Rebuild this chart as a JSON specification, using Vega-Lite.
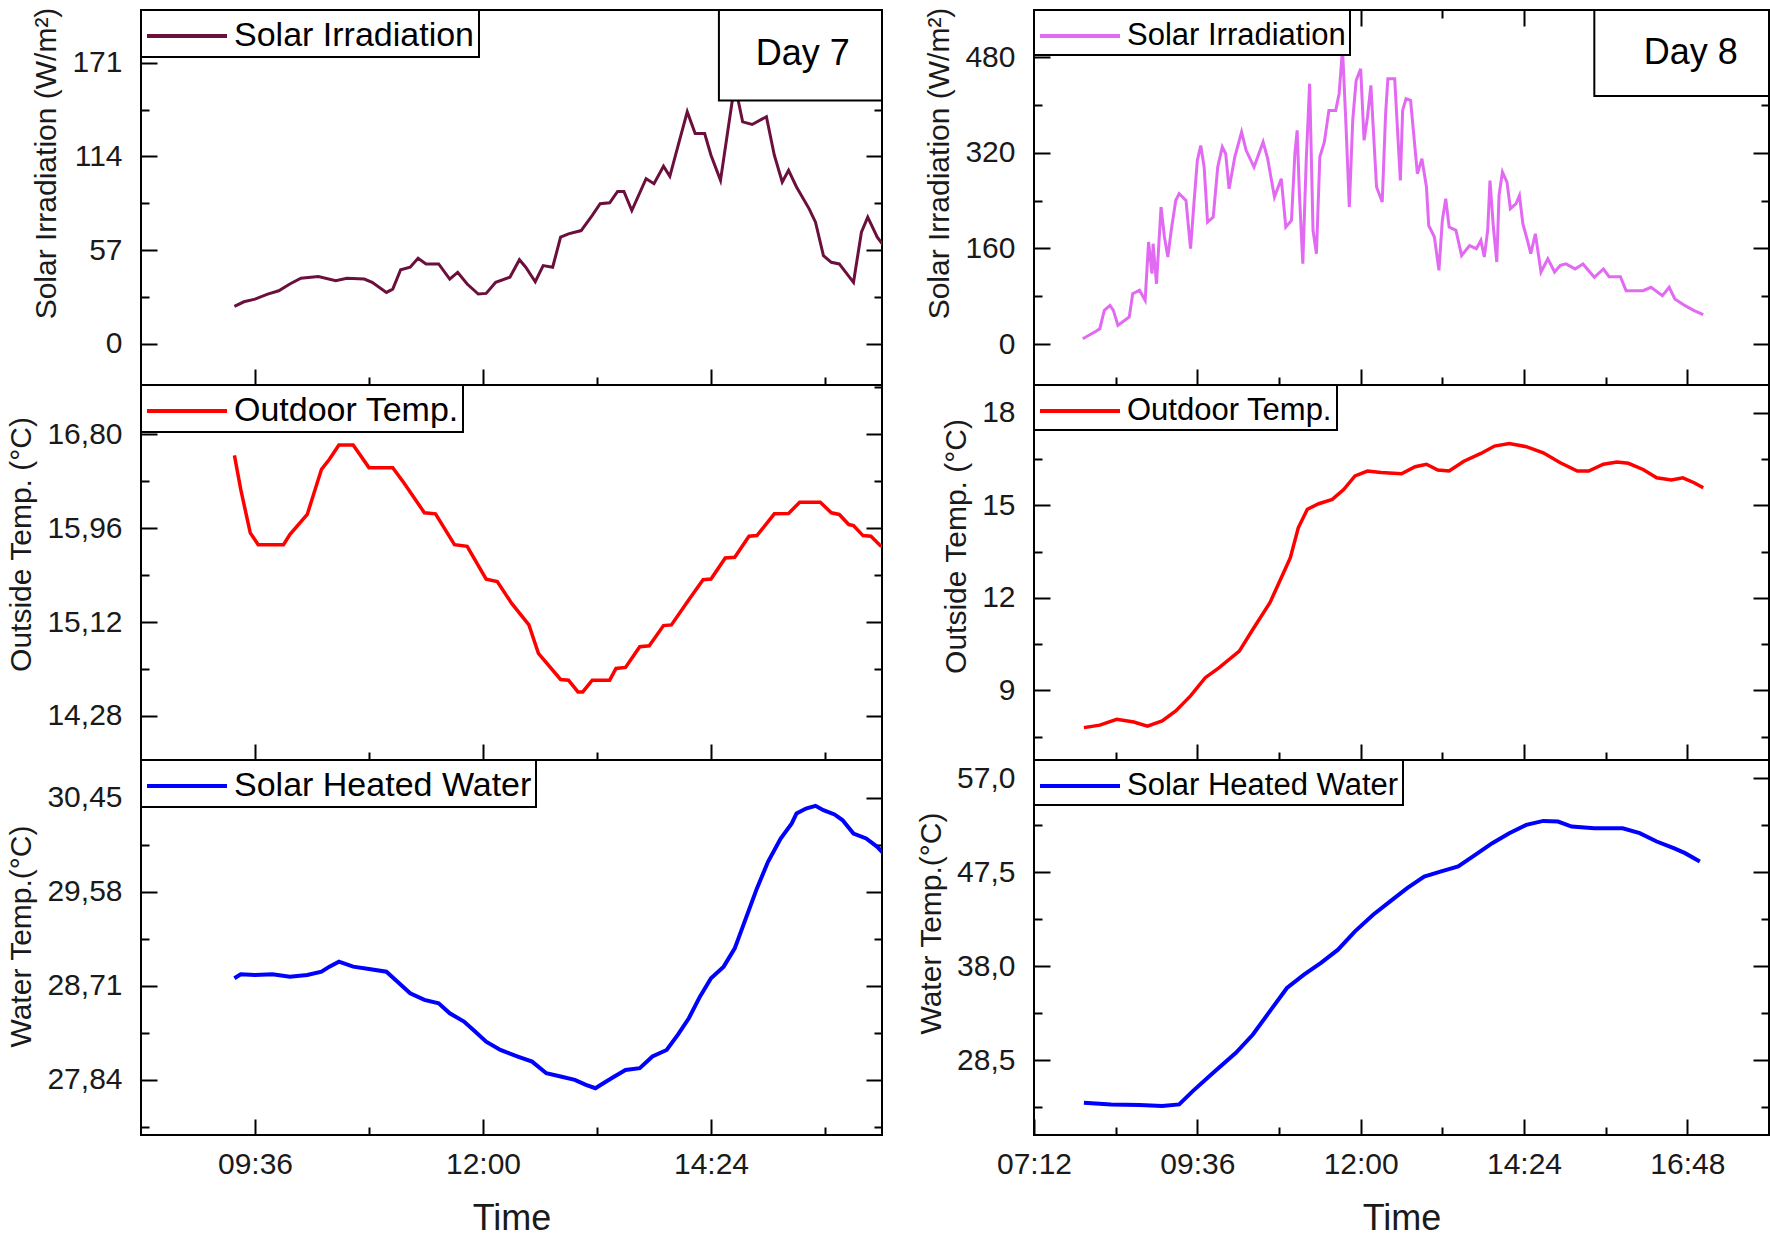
{
  "$schema": "https://vega.github.io/schema/vega-lite/v6.json",
  "background": "white",
  "padding": {"left": 5, "top": 6, "right": 4, "bottom": 2},
  "config": {
    "font": "Liberation Sans",
    "view": {"stroke": "black", "strokeWidth": 2},
    "axis": {"domain": false, "grid": false, "tickColor": "black", "tickWidth": 2, "labelFont": "Liberation Sans", "labelFontSize": 30, "labelColor": "#1a1a1a", "titleFont": "Liberation Sans", "titleFontSize": 30, "titleFontWeight": "normal", "titleColor": "#1a1a1a", "labelPadding": 35, "titlePadding": 10, "labelFlush": false, "labelOverlap": false, "labelBound": false},
    "legend": {"orient": "top-left", "offset": 0, "strokeColor": "black", "strokeWidth": 2, "fillColor": "white", "padding": 4, "symbolType": "M-1,0H3", "symbolSize": 1600, "symbolStrokeWidth": 4, "labelFont": "Liberation Sans", "labelFontSize": 34, "labelColor": "black", "labelOffset": 45, "labelLimit": 800}
  },
  "spacing": 30,
  "resolve": {"scale": {"x": "independent", "y": "independent", "color": "independent"}, "legend": {"color": "independent"}, "axis": {"x": "independent", "y": "independent"}},
  "hconcat": [
    {
      "spacing": 0,
      "bounds": "flush",
      "resolve": {"scale": {"x": "independent", "y": "independent", "color": "independent"}, "legend": {"color": "independent"}, "axis": {"x": "independent", "y": "independent"}},
      "vconcat": [
        {
          "width": 741, "height": 375,
          "data": {"values": [
            {"t":"09:23","v":22.8},{"t":"09:29","v":25.6},{"t":"09:36","v":27.2},{"t":"09:44","v":30.3},{"t":"09:51","v":32.3},{"t":"09:58","v":36.4},{"t":"10:05","v":39.9},{"t":"10:16","v":40.9},{"t":"10:27","v":38.4},{"t":"10:34","v":39.9},{"t":"10:45","v":39.4},{"t":"10:50","v":37.4},{"t":"10:59","v":31.3},{"t":"11:03","v":33.3},{"t":"11:08","v":45.1},{"t":"11:14","v":46.6},{"t":"11:19","v":52.1},{"t":"11:24","v":48.6},{"t":"11:32","v":48.6},{"t":"11:39","v":39.4},{"t":"11:44","v":43.5},{"t":"11:50","v":36.4},{"t":"11:57","v":30.3},{"t":"12:02","v":30.7},{"t":"12:08","v":37.4},{"t":"12:17","v":40.5},{"t":"12:23","v":51.2},{"t":"12:27","v":46.6},{"t":"12:33","v":37.8},{"t":"12:38","v":47.6},{"t":"12:44","v":46.6},{"t":"12:49","v":64.9},{"t":"12:54","v":66.9},{"t":"13:02","v":68.9},{"t":"13:09","v":78.1},{"t":"13:14","v":85.2},{"t":"13:20","v":85.8},{"t":"13:25","v":92.7},{"t":"13:29","v":92.7},{"t":"13:34","v":81.1},{"t":"13:43","v":100.4},{"t":"13:48","v":97.4},{"t":"13:54","v":108.0},{"t":"13:58","v":101.9},{"t":"14:03","v":119.8},{"t":"14:09","v":141.1},{"t":"14:14","v":127.9},{"t":"14:20","v":127.9},{"t":"14:24","v":114.7},{"t":"14:30","v":99.4},{"t":"14:35","v":132.0},{"t":"14:39","v":158.0},{"t":"14:44","v":135.0},{"t":"14:50","v":133.4},{"t":"14:59","v":138.1},{"t":"15:04","v":114.7},{"t":"15:09","v":98.4},{"t":"15:13","v":105.5},{"t":"15:18","v":95.4},{"t":"15:26","v":82.1},{"t":"15:30","v":74.0},{"t":"15:35","v":53.7},{"t":"15:40","v":49.6},{"t":"15:45","v":48.6},{"t":"15:54","v":37.4},{"t":"15:59","v":67.9},{"t":"16:03","v":77.1},{"t":"16:09","v":64.9},{"t":"16:13","v":59.8}
          ], "format": {"parse": {"t": "utc:'%H:%M'"}}},
          "resolve": {"axis": {"y": "independent"}},
          "layer": [
            {"mark": {"type": "line", "strokeWidth": 3, "clip": true},
             "encoding": {
               "x": {"field": "t", "type": "temporal", "scale": {"type": "utc", "domain": [{"year":1900,"month":1,"date":1,"hours":8,"minutes":24,"utc":true},{"year":1900,"month":1,"date":1,"hours":16,"minutes":12,"utc":true}]},
                     "axis": {"labels": false, "title": null, "values": [{"year":1900,"month":1,"date":1,"hours":9,"minutes":36,"utc":true},{"year":1900,"month":1,"date":1,"hours":10,"minutes":48,"utc":true},{"year":1900,"month":1,"date":1,"hours":12,"minutes":0,"utc":true},{"year":1900,"month":1,"date":1,"hours":13,"minutes":12,"utc":true},{"year":1900,"month":1,"date":1,"hours":14,"minutes":24,"utc":true},{"year":1900,"month":1,"date":1,"hours":15,"minutes":36,"utc":true}],
                              "tickSize": {"condition": {"test": "(utchours(datum.value)*60+utcminutes(datum.value)) % 144 === 0", "value": -16}, "value": -8}}},
               "y": {"field": "v", "type": "quantitative", "scale": {"domain": [-25, 203], "nice": false, "zero": false},
                     "axis": {"title": "Solar Irradiation (W/m²)", "titleY": 153, "values": [0, 28.5, 57, 85.5, 114, 142.5, 171, 199.5],
                              "labelExpr": "abs(datum.value/57 - round(datum.value/57)) < 0.01 ? format(datum.value, 'd') : ''",
                              "labelFontSize": {"condition": {"test": "abs(datum.value/57 - round(datum.value/57)) < 0.01", "value": 30}, "value": 0},
                              "tickSize": {"condition": {"test": "abs(datum.value/57 - round(datum.value/57)) < 0.01", "value": -16}, "value": -8}}},
               "color": {"datum": "Solar Irradiation", "type": "nominal", "scale": {"range": ["#6b0f3c"]}, "legend": {"title": null}}
             }},
            {"mark": {"type": "line", "opacity": 0},
             "encoding": {
               "x": {"field": "t", "type": "temporal"},
               "y": {"field": "v", "type": "quantitative", "scale": {"domain": [-25, 203], "nice": false, "zero": false},
                     "axis": {"orient": "right", "labels": false, "title": null, "values": [0, 28.5, 57, 85.5, 114, 142.5, 171, 199.5],
                              "tickSize": {"condition": {"test": "abs(datum.value/57 - round(datum.value/57)) < 0.01", "value": -16}, "value": -8}}}
             }},
            {"data": {"values": [{}]},
             "mark": {"type": "rect", "fill": "white", "stroke": "black", "strokeWidth": 2},
             "encoding": {
               "x": {"datum": {"year":1900,"month":1,"date":1,"hours":14,"minutes":29,"utc":true}, "type": "temporal"},
               "x2": {"datum": {"year":1900,"month":1,"date":1,"hours":16,"minutes":12,"utc":true}},
               "y": {"datum": 148, "type": "quantitative", "axis": null},
               "y2": {"datum": 203}
             }},
            {"data": {"values": [{}]},
             "mark": {"type": "text", "font": "Liberation Sans", "fontSize": 36, "color": "black", "align": "center", "baseline": "middle"},
             "encoding": {
               "x": {"datum": {"year":1900,"month":1,"date":1,"hours":15,"minutes":22,"utc":true}, "type": "temporal"},
               "y": {"datum": 176, "type": "quantitative", "axis": null},
               "text": {"value": "Day 7"}
             }}
          ]
        },
        {
          "width": 741, "height": 375,
          "data": {"values": [
            {"t":"09:23","v":16.611},{"t":"09:27","v":16.306},{"t":"09:33","v":15.917},{"t":"09:38","v":15.812},{"t":"09:54","v":15.812},{"t":"09:58","v":15.902},{"t":"10:09","v":16.082},{"t":"10:18","v":16.486},{"t":"10:23","v":16.576},{"t":"10:29","v":16.704},{"t":"10:38","v":16.704},{"t":"10:48","v":16.501},{"t":"11:03","v":16.501},{"t":"11:10","v":16.366},{"t":"11:23","v":16.097},{"t":"11:30","v":16.088},{"t":"11:42","v":15.812},{"t":"11:50","v":15.797},{"t":"12:02","v":15.504},{"t":"12:09","v":15.483},{"t":"12:18","v":15.289},{"t":"12:29","v":15.094},{"t":"12:35","v":14.84},{"t":"12:49","v":14.606},{"t":"12:54","v":14.6},{"t":"13:00","v":14.495},{"t":"13:03","v":14.495},{"t":"13:09","v":14.6},{"t":"13:20","v":14.6},{"t":"13:24","v":14.705},{"t":"13:30","v":14.714},{"t":"13:39","v":14.899},{"t":"13:45","v":14.908},{"t":"13:54","v":15.088},{"t":"13:59","v":15.094},{"t":"14:10","v":15.319},{"t":"14:19","v":15.498},{"t":"14:24","v":15.504},{"t":"14:33","v":15.693},{"t":"14:39","v":15.699},{"t":"14:48","v":15.887},{"t":"14:53","v":15.893},{"t":"15:04","v":16.088},{"t":"15:13","v":16.091},{"t":"15:20","v":16.192},{"t":"15:33","v":16.192},{"t":"15:40","v":16.097},{"t":"15:45","v":16.082},{"t":"15:51","v":15.992},{"t":"15:54","v":15.983},{"t":"16:00","v":15.893},{"t":"16:05","v":15.887},{"t":"16:11","v":15.803},{"t":"16:13","v":15.797}
          ], "format": {"parse": {"t": "utc:'%H:%M'"}}},
          "resolve": {"axis": {"y": "independent"}},
          "layer": [
            {"mark": {"type": "line", "strokeWidth": 3.5, "clip": true},
             "encoding": {
               "x": {"field": "t", "type": "temporal", "scale": {"type": "utc", "domain": [{"year":1900,"month":1,"date":1,"hours":8,"minutes":24,"utc":true},{"year":1900,"month":1,"date":1,"hours":16,"minutes":12,"utc":true}]},
                     "axis": {"labels": false, "title": null, "values": [{"year":1900,"month":1,"date":1,"hours":9,"minutes":36,"utc":true},{"year":1900,"month":1,"date":1,"hours":10,"minutes":48,"utc":true},{"year":1900,"month":1,"date":1,"hours":12,"minutes":0,"utc":true},{"year":1900,"month":1,"date":1,"hours":13,"minutes":12,"utc":true},{"year":1900,"month":1,"date":1,"hours":14,"minutes":24,"utc":true},{"year":1900,"month":1,"date":1,"hours":15,"minutes":36,"utc":true}],
                              "tickSize": {"condition": {"test": "(utchours(datum.value)*60+utcminutes(datum.value)) % 144 === 0", "value": -16}, "value": -8}}},
               "y": {"field": "v", "type": "quantitative", "scale": {"domain": [13.886, 17.24], "nice": false, "zero": false},
                     "axis": {"title": "Outside Temp. (°C)", "titleY": 159, "values": [14.28, 14.7, 15.12, 15.54, 15.96, 16.38, 16.8, 17.22],
                              "labelExpr": "abs(datum.value/0.84 - round(datum.value/0.84)) < 0.01 ? replace(format(datum.value, '.2f'), '.', ',') : ''",
                              "labelFontSize": {"condition": {"test": "abs(datum.value/0.84 - round(datum.value/0.84)) < 0.01", "value": 30}, "value": 0},
                              "tickSize": {"condition": {"test": "abs(datum.value/0.84 - round(datum.value/0.84)) < 0.01", "value": -16}, "value": -8}}},
               "color": {"datum": "Outdoor Temp.", "type": "nominal", "scale": {"range": ["#ff0000"]}, "legend": {"title": null}}
             }},
            {"mark": {"type": "line", "opacity": 0},
             "encoding": {
               "x": {"field": "t", "type": "temporal"},
               "y": {"field": "v", "type": "quantitative", "scale": {"domain": [13.886, 17.24], "nice": false, "zero": false},
                     "axis": {"orient": "right", "labels": false, "title": null, "values": [14.28, 14.7, 15.12, 15.54, 15.96, 16.38, 16.8, 17.22],
                              "tickSize": {"condition": {"test": "abs(datum.value/0.84 - round(datum.value/0.84)) < 0.01", "value": -16}, "value": -8}}}
             }}
          ]
        },
        {
          "width": 741, "height": 375,
          "data": {"values": [
            {"t":"09:23","v":28.78},{"t":"09:27","v":28.817},{"t":"09:36","v":28.811},{"t":"09:47","v":28.817},{"t":"09:58","v":28.795},{"t":"10:09","v":28.811},{"t":"10:18","v":28.841},{"t":"10:23","v":28.888},{"t":"10:29","v":28.934},{"t":"10:38","v":28.888},{"t":"10:48","v":28.866},{"t":"10:59","v":28.841},{"t":"11:06","v":28.749},{"t":"11:14","v":28.641},{"t":"11:23","v":28.58},{"t":"11:32","v":28.549},{"t":"11:39","v":28.456},{"t":"11:48","v":28.379},{"t":"11:55","v":28.287},{"t":"12:02","v":28.194},{"t":"12:11","v":28.117},{"t":"12:22","v":28.056},{"t":"12:31","v":28.009},{"t":"12:40","v":27.902},{"t":"12:49","v":27.871},{"t":"12:58","v":27.84},{"t":"13:05","v":27.794},{"t":"13:11","v":27.763},{"t":"13:16","v":27.809},{"t":"13:23","v":27.871},{"t":"13:30","v":27.932},{"t":"13:39","v":27.948},{"t":"13:47","v":28.056},{"t":"13:56","v":28.117},{"t":"14:03","v":28.256},{"t":"14:10","v":28.41},{"t":"14:17","v":28.61},{"t":"14:24","v":28.78},{"t":"14:32","v":28.888},{"t":"14:39","v":29.057},{"t":"14:46","v":29.335},{"t":"14:53","v":29.612},{"t":"15:00","v":29.858},{"t":"15:08","v":30.074},{"t":"15:15","v":30.213},{"t":"15:18","v":30.305},{"t":"15:24","v":30.351},{"t":"15:30","v":30.376},{"t":"15:35","v":30.336},{"t":"15:42","v":30.296},{"t":"15:47","v":30.244},{"t":"15:54","v":30.12},{"t":"16:02","v":30.074},{"t":"16:09","v":29.997},{"t":"16:13","v":29.935}
          ], "format": {"parse": {"t": "utc:'%H:%M'"}}},
          "resolve": {"axis": {"y": "independent"}},
          "layer": [
            {"mark": {"type": "line", "strokeWidth": 4, "clip": true},
             "encoding": {
               "x": {"field": "t", "type": "temporal", "scale": {"type": "utc", "domain": [{"year":1900,"month":1,"date":1,"hours":8,"minutes":24,"utc":true},{"year":1900,"month":1,"date":1,"hours":16,"minutes":12,"utc":true}]},
                     "axis": {"title": "Time", "titleFontSize": 36, "titlePadding": 14, "labelPadding": 30, "values": [{"year":1900,"month":1,"date":1,"hours":9,"minutes":36,"utc":true},{"year":1900,"month":1,"date":1,"hours":10,"minutes":48,"utc":true},{"year":1900,"month":1,"date":1,"hours":12,"minutes":0,"utc":true},{"year":1900,"month":1,"date":1,"hours":13,"minutes":12,"utc":true},{"year":1900,"month":1,"date":1,"hours":14,"minutes":24,"utc":true},{"year":1900,"month":1,"date":1,"hours":15,"minutes":36,"utc":true}],
                              "labelExpr": "(utchours(datum.value)*60+utcminutes(datum.value)) % 144 === 0 ? utcFormat(datum.value, '%H:%M') : ''",
                              "tickSize": {"condition": {"test": "(utchours(datum.value)*60+utcminutes(datum.value)) % 144 === 0", "value": -16}, "value": -8}}},
               "y": {"field": "v", "type": "quantitative", "scale": {"domain": [27.33, 30.8], "nice": false, "zero": false},
                     "axis": {"title": "Water Temp.(°C)", "titleY": 176, "values": [27.405, 27.84, 28.275, 28.71, 29.145, 29.58, 30.015, 30.45],
                              "labelExpr": "abs(datum.value/0.87 - round(datum.value/0.87)) < 0.01 ? replace(format(datum.value, '.2f'), '.', ',') : ''",
                              "labelFontSize": {"condition": {"test": "abs(datum.value/0.87 - round(datum.value/0.87)) < 0.01", "value": 30}, "value": 0},
                              "tickSize": {"condition": {"test": "abs(datum.value/0.87 - round(datum.value/0.87)) < 0.01", "value": -16}, "value": -8}}},
               "color": {"datum": "Solar Heated Water", "type": "nominal", "scale": {"range": ["#0000ff"]}, "legend": {"title": null}}
             }},
            {"mark": {"type": "line", "opacity": 0},
             "encoding": {
               "x": {"field": "t", "type": "temporal"},
               "y": {"field": "v", "type": "quantitative", "scale": {"domain": [27.33, 30.8], "nice": false, "zero": false},
                     "axis": {"orient": "right", "labels": false, "title": null, "values": [27.405, 27.84, 28.275, 28.71, 29.145, 29.58, 30.015, 30.45],
                              "tickSize": {"condition": {"test": "abs(datum.value/0.87 - round(datum.value/0.87)) < 0.01", "value": -16}, "value": -8}}}
             }}
          ]
        }
      ]
    },
    {
      "spacing": 0,
      "bounds": "flush",
      "resolve": {"scale": {"x": "independent", "y": "independent", "color": "independent"}, "legend": {"color": "independent"}, "axis": {"x": "independent", "y": "independent"}},
      "vconcat": [
        {
          "width": 735, "height": 375,
          "data": {"values": [
            {"t":"07:55","v":8.9},{"t":"08:07","v":21.7},{"t":"08:10","v":25.6},{"t":"08:14","v":56.3},{"t":"08:19","v":64.6},{"t":"08:22","v":56.3},{"t":"08:26","v":31.2},{"t":"08:30","v":36.8},{"t":"08:36","v":45.2},{"t":"08:39","v":84.2},{"t":"08:45","v":89.8},{"t":"08:50","v":73.1},{"t":"08:53","v":170.6},{"t":"08:56","v":117.6},{"t":"08:57","v":167.8},{"t":"09:00","v":100.8},{"t":"09:04","v":229.1},{"t":"09:07","v":179.0},{"t":"09:10","v":145.5},{"t":"09:13","v":190.2},{"t":"09:17","v":240.3},{"t":"09:20","v":251.4},{"t":"09:26","v":240.3},{"t":"09:30","v":159.4},{"t":"09:33","v":234.7},{"t":"09:36","v":307.0},{"t":"09:39","v":332.0},{"t":"09:42","v":296.0},{"t":"09:45","v":204.0},{"t":"09:50","v":212.4},{"t":"09:54","v":296.0},{"t":"09:58","v":329.5},{"t":"10:01","v":318.3},{"t":"10:04","v":259.7},{"t":"10:09","v":312.8},{"t":"10:15","v":354.6},{"t":"10:19","v":324.0},{"t":"10:26","v":296.0},{"t":"10:34","v":337.8},{"t":"10:38","v":310.0},{"t":"10:44","v":245.9},{"t":"10:50","v":276.5},{"t":"10:54","v":195.7},{"t":"10:59","v":206.8},{"t":"11:02","v":318.3},{"t":"11:04","v":357.3},{"t":"11:06","v":251.4},{"t":"11:09","v":134.3},{"t":"11:12","v":307.0},{"t":"11:15","v":435.4},{"t":"11:18","v":190.2},{"t":"11:21","v":151.1},{"t":"11:24","v":312.8},{"t":"11:28","v":337.8},{"t":"11:32","v":390.7},{"t":"11:38","v":390.7},{"t":"11:41","v":418.6},{"t":"11:44","v":493.9},{"t":"11:47","v":368.5},{"t":"11:50","v":229.1},{"t":"11:53","v":374.0},{"t":"11:56","v":440.7},{"t":"12:00","v":460.4},{"t":"12:03","v":340.6},{"t":"12:06","v":379.7},{"t":"12:09","v":432.7},{"t":"12:14","v":262.6},{"t":"12:19","v":237.5},{"t":"12:22","v":385.3},{"t":"12:24","v":443.7},{"t":"12:30","v":443.7},{"t":"12:33","v":340.6},{"t":"12:35","v":273.5},{"t":"12:37","v":390.7},{"t":"12:40","v":410.2},{"t":"12:44","v":407.4},{"t":"12:47","v":346.2},{"t":"12:50","v":284.8},{"t":"12:54","v":310.0},{"t":"12:58","v":262.6},{"t":"13:00","v":198.2},{"t":"13:05","v":179.0},{"t":"13:09","v":123.3},{"t":"13:12","v":206.8},{"t":"13:15","v":243.0},{"t":"13:18","v":195.7},{"t":"13:24","v":190.2},{"t":"13:29","v":148.0},{"t":"13:36","v":164.7},{"t":"13:42","v":159.4},{"t":"13:46","v":173.4},{"t":"13:49","v":145.5},{"t":"13:52","v":190.2},{"t":"13:54","v":273.5},{"t":"13:57","v":195.7},{"t":"14:00","v":137.1},{"t":"14:02","v":248.4},{"t":"14:05","v":287.7},{"t":"14:09","v":270.9},{"t":"14:12","v":226.3},{"t":"14:17","v":234.7},{"t":"14:20","v":248.4},{"t":"14:23","v":201.2},{"t":"14:27","v":173.4},{"t":"14:30","v":151.0},{"t":"14:34","v":184.5},{"t":"14:39","v":120.4},{"t":"14:45","v":142.7},{"t":"14:51","v":120.4},{"t":"14:56","v":131.6},{"t":"15:01","v":134.0},{"t":"15:09","v":125.6},{"t":"15:16","v":134.0},{"t":"15:26","v":111.6},{"t":"15:34","v":125.6},{"t":"15:39","v":112.7},{"t":"15:49","v":112.7},{"t":"15:54","v":89.3},{"t":"16:09","v":89.3},{"t":"16:16","v":94.9},{"t":"16:26","v":80.9},{"t":"16:32","v":94.9},{"t":"16:37","v":75.3},{"t":"16:46","v":64.2},{"t":"16:54","v":55.8},{"t":"17:02","v":49.1}
          ], "format": {"parse": {"t": "utc:'%H:%M'"}}},
          "resolve": {"axis": {"x": "independent", "y": "independent"}},
          "layer": [
            {"mark": {"type": "line", "strokeWidth": 3, "clip": true},
             "encoding": {
               "x": {"field": "t", "type": "temporal", "scale": {"type": "utc", "domain": [{"year":1900,"month":1,"date":1,"hours":7,"minutes":12,"utc":true},{"year":1900,"month":1,"date":1,"hours":18,"minutes":0,"utc":true}]},
                     "axis": {"orient": "bottom", "labels": false, "title": null, "values": [{"year":1900,"month":1,"date":1,"hours":8,"minutes":24,"utc":true},{"year":1900,"month":1,"date":1,"hours":9,"minutes":36,"utc":true},{"year":1900,"month":1,"date":1,"hours":10,"minutes":48,"utc":true},{"year":1900,"month":1,"date":1,"hours":12,"minutes":0,"utc":true},{"year":1900,"month":1,"date":1,"hours":13,"minutes":12,"utc":true},{"year":1900,"month":1,"date":1,"hours":14,"minutes":24,"utc":true},{"year":1900,"month":1,"date":1,"hours":15,"minutes":36,"utc":true},{"year":1900,"month":1,"date":1,"hours":16,"minutes":48,"utc":true}],
                              "tickSize": {"condition": {"test": "(utchours(datum.value)*60+utcminutes(datum.value)) % 144 === 0", "value": -16}, "value": -8}}},
               "y": {"field": "v", "type": "quantitative", "scale": {"domain": [-68.5, 558.6], "nice": false, "zero": false},
                     "axis": {"title": "Solar Irradiation (W/m²)", "titleY": 153, "values": [0, 80, 160, 240, 320, 400, 480],
                              "labelExpr": "abs(datum.value/160 - round(datum.value/160)) < 0.01 ? format(datum.value, 'd') : ''",
                              "labelFontSize": {"condition": {"test": "abs(datum.value/160 - round(datum.value/160)) < 0.01", "value": 30}, "value": 0},
                              "tickSize": {"condition": {"test": "abs(datum.value/160 - round(datum.value/160)) < 0.01", "value": -16}, "value": -8}}},
               "color": {"datum": "Solar Irradiation", "type": "nominal", "scale": {"range": ["#e26af3"]}, "legend": {"title": null, "labelFontSize": 31}}
             }},
            {"mark": {"type": "line", "opacity": 0},
             "encoding": {
               "x": {"field": "t", "type": "temporal",
                     "axis": {"orient": "top", "labels": false, "title": null, "values": [{"year":1900,"month":1,"date":1,"hours":8,"minutes":24,"utc":true},{"year":1900,"month":1,"date":1,"hours":9,"minutes":36,"utc":true},{"year":1900,"month":1,"date":1,"hours":10,"minutes":48,"utc":true},{"year":1900,"month":1,"date":1,"hours":12,"minutes":0,"utc":true},{"year":1900,"month":1,"date":1,"hours":13,"minutes":12,"utc":true},{"year":1900,"month":1,"date":1,"hours":14,"minutes":24,"utc":true},{"year":1900,"month":1,"date":1,"hours":15,"minutes":36,"utc":true},{"year":1900,"month":1,"date":1,"hours":16,"minutes":48,"utc":true}],
                              "tickSize": {"condition": {"test": "(utchours(datum.value)*60+utcminutes(datum.value)) % 144 === 0", "value": -16}, "value": -8}}},
               "y": {"field": "v", "type": "quantitative", "scale": {"domain": [-68.5, 558.6], "nice": false, "zero": false},
                     "axis": {"orient": "right", "labels": false, "title": null, "values": [0, 80, 160, 240, 320, 400, 480],
                              "tickSize": {"condition": {"test": "abs(datum.value/160 - round(datum.value/160)) < 0.01", "value": -16}, "value": -8}}}
             }},
            {"data": {"values": [{}]},
             "mark": {"type": "rect", "fill": "white", "stroke": "black", "strokeWidth": 2},
             "encoding": {
               "x": {"datum": {"year":1900,"month":1,"date":1,"hours":15,"minutes":26,"utc":true}, "type": "temporal", "axis": null},
               "x2": {"datum": {"year":1900,"month":1,"date":1,"hours":18,"minutes":0,"utc":true}},
               "y": {"datum": 414.8, "type": "quantitative", "axis": null},
               "y2": {"datum": 558.6}
             }},
            {"data": {"values": [{}]},
             "mark": {"type": "text", "font": "Liberation Sans", "fontSize": 36, "color": "black", "align": "center", "baseline": "middle"},
             "encoding": {
               "x": {"datum": {"year":1900,"month":1,"date":1,"hours":16,"minutes":51,"utc":true}, "type": "temporal", "axis": null},
               "y": {"datum": 486, "type": "quantitative", "axis": null},
               "text": {"value": "Day 8"}
             }}
          ]
        },
        {
          "width": 735, "height": 375,
          "data": {"values": [
            {"t":"07:56","v":7.79},{"t":"08:10","v":7.87},{"t":"08:25","v":8.06},{"t":"08:40","v":7.97},{"t":"08:52","v":7.84},{"t":"09:05","v":8.01},{"t":"09:17","v":8.33},{"t":"09:30","v":8.82},{"t":"09:43","v":9.41},{"t":"09:55","v":9.73},{"t":"10:13","v":10.27},{"t":"10:25","v":10.98},{"t":"10:40","v":11.84},{"t":"10:50","v":12.65},{"t":"10:58","v":13.3},{"t":"11:05","v":14.27},{"t":"11:13","v":14.87},{"t":"11:23","v":15.05},{"t":"11:35","v":15.19},{"t":"11:45","v":15.51},{"t":"11:55","v":15.95},{"t":"12:06","v":16.11},{"t":"12:18","v":16.06},{"t":"12:36","v":16.02},{"t":"12:48","v":16.25},{"t":"12:58","v":16.33},{"t":"13:08","v":16.14},{"t":"13:18","v":16.11},{"t":"13:31","v":16.43},{"t":"13:46","v":16.68},{"t":"13:58","v":16.92},{"t":"14:11","v":17.0},{"t":"14:26","v":16.9},{"t":"14:41","v":16.7},{"t":"14:56","v":16.38},{"t":"15:11","v":16.11},{"t":"15:21","v":16.11},{"t":"15:34","v":16.33},{"t":"15:46","v":16.4},{"t":"15:56","v":16.36},{"t":"16:09","v":16.16},{"t":"16:21","v":15.89},{"t":"16:34","v":15.82},{"t":"16:44","v":15.89},{"t":"16:54","v":15.73},{"t":"17:02","v":15.57}
          ], "format": {"parse": {"t": "utc:'%H:%M'"}}},
          "resolve": {"axis": {"y": "independent"}},
          "layer": [
            {"mark": {"type": "line", "strokeWidth": 3.5, "clip": true},
             "encoding": {
               "x": {"field": "t", "type": "temporal", "scale": {"type": "utc", "domain": [{"year":1900,"month":1,"date":1,"hours":7,"minutes":12,"utc":true},{"year":1900,"month":1,"date":1,"hours":18,"minutes":0,"utc":true}]},
                     "axis": {"labels": false, "title": null, "values": [{"year":1900,"month":1,"date":1,"hours":8,"minutes":24,"utc":true},{"year":1900,"month":1,"date":1,"hours":9,"minutes":36,"utc":true},{"year":1900,"month":1,"date":1,"hours":10,"minutes":48,"utc":true},{"year":1900,"month":1,"date":1,"hours":12,"minutes":0,"utc":true},{"year":1900,"month":1,"date":1,"hours":13,"minutes":12,"utc":true},{"year":1900,"month":1,"date":1,"hours":14,"minutes":24,"utc":true},{"year":1900,"month":1,"date":1,"hours":15,"minutes":36,"utc":true},{"year":1900,"month":1,"date":1,"hours":16,"minutes":48,"utc":true}],
                              "tickSize": {"condition": {"test": "(utchours(datum.value)*60+utcminutes(datum.value)) % 144 === 0", "value": -16}, "value": -8}}},
               "y": {"field": "v", "type": "quantitative", "scale": {"domain": [6.74, 18.9], "nice": false, "zero": false},
                     "axis": {"title": "Outside Temp. (°C)", "titleY": 161, "values": [7.5, 9, 10.5, 12, 13.5, 15, 16.5, 18],
                              "labelExpr": "abs(datum.value/3 - round(datum.value/3)) < 0.01 ? format(datum.value, 'd') : ''",
                              "labelFontSize": {"condition": {"test": "abs(datum.value/3 - round(datum.value/3)) < 0.01", "value": 30}, "value": 0},
                              "tickSize": {"condition": {"test": "abs(datum.value/3 - round(datum.value/3)) < 0.01", "value": -16}, "value": -8}}},
               "color": {"datum": "Outdoor Temp.", "type": "nominal", "scale": {"range": ["#ff0000"]}, "legend": {"title": null, "labelFontSize": 31}}
             }},
            {"mark": {"type": "line", "opacity": 0},
             "encoding": {
               "x": {"field": "t", "type": "temporal"},
               "y": {"field": "v", "type": "quantitative", "scale": {"domain": [6.74, 18.9], "nice": false, "zero": false},
                     "axis": {"orient": "right", "labels": false, "title": null, "values": [7.5, 9, 10.5, 12, 13.5, 15, 16.5, 18],
                              "tickSize": {"condition": {"test": "abs(datum.value/3 - round(datum.value/3)) < 0.01", "value": -16}, "value": -8}}}
             }}
          ]
        },
        {
          "width": 735, "height": 375,
          "data": {"values": [
            {"t":"07:56","v":24.19},{"t":"08:20","v":24.02},{"t":"08:45","v":23.96},{"t":"09:05","v":23.86},{"t":"09:20","v":24.02},{"t":"09:32","v":25.37},{"t":"09:50","v":27.22},{"t":"10:10","v":29.24},{"t":"10:25","v":31.09},{"t":"10:40","v":33.45},{"t":"10:55","v":35.8},{"t":"11:10","v":37.15},{"t":"11:25","v":38.33},{"t":"11:40","v":39.67},{"t":"11:55","v":41.52},{"t":"12:11","v":43.2},{"t":"12:26","v":44.55},{"t":"12:41","v":45.9},{"t":"12:56","v":47.07},{"t":"13:11","v":47.58},{"t":"13:26","v":48.08},{"t":"13:41","v":49.26},{"t":"13:56","v":50.44},{"t":"14:11","v":51.45},{"t":"14:26","v":52.29},{"t":"14:41","v":52.69},{"t":"14:54","v":52.63},{"t":"15:06","v":52.12},{"t":"15:26","v":51.95},{"t":"15:51","v":51.95},{"t":"16:06","v":51.45},{"t":"16:21","v":50.61},{"t":"16:36","v":49.93},{"t":"16:46","v":49.43},{"t":"16:59","v":48.59}
          ], "format": {"parse": {"t": "utc:'%H:%M'"}}},
          "resolve": {"axis": {"y": "independent"}},
          "layer": [
            {"mark": {"type": "line", "strokeWidth": 4, "clip": true},
             "encoding": {
               "x": {"field": "t", "type": "temporal", "scale": {"type": "utc", "domain": [{"year":1900,"month":1,"date":1,"hours":7,"minutes":12,"utc":true},{"year":1900,"month":1,"date":1,"hours":18,"minutes":0,"utc":true}]},
                     "axis": {"title": "Time", "titleFontSize": 36, "titlePadding": 14, "labelPadding": 30, "values": [{"year":1900,"month":1,"date":1,"hours":7,"minutes":12,"utc":true},{"year":1900,"month":1,"date":1,"hours":8,"minutes":24,"utc":true},{"year":1900,"month":1,"date":1,"hours":9,"minutes":36,"utc":true},{"year":1900,"month":1,"date":1,"hours":10,"minutes":48,"utc":true},{"year":1900,"month":1,"date":1,"hours":12,"minutes":0,"utc":true},{"year":1900,"month":1,"date":1,"hours":13,"minutes":12,"utc":true},{"year":1900,"month":1,"date":1,"hours":14,"minutes":24,"utc":true},{"year":1900,"month":1,"date":1,"hours":15,"minutes":36,"utc":true},{"year":1900,"month":1,"date":1,"hours":16,"minutes":48,"utc":true}],
                              "labelExpr": "(utchours(datum.value)*60+utcminutes(datum.value)) % 144 === 0 ? utcFormat(datum.value, '%H:%M') : ''",
                              "tickSize": {"condition": {"test": "(utchours(datum.value)*60+utcminutes(datum.value)) % 144 === 0", "value": -16}, "value": -8}}},
               "y": {"field": "v", "type": "quantitative", "scale": {"domain": [20.93, 58.85], "nice": false, "zero": false},
                     "axis": {"title": "Water Temp.(°C)", "titleY": 163, "values": [23.75, 28.5, 33.25, 38, 42.75, 47.5, 52.25, 57],
                              "labelExpr": "abs(datum.value/9.5 - round(datum.value/9.5)) < 0.01 ? replace(format(datum.value, '.1f'), '.', ',') : ''",
                              "labelFontSize": {"condition": {"test": "abs(datum.value/9.5 - round(datum.value/9.5)) < 0.01", "value": 30}, "value": 0},
                              "tickSize": {"condition": {"test": "abs(datum.value/9.5 - round(datum.value/9.5)) < 0.01", "value": -16}, "value": -8}}},
               "color": {"datum": "Solar Heated Water", "type": "nominal", "scale": {"range": ["#0000ff"]}, "legend": {"title": null, "labelFontSize": 31}}
             }},
            {"mark": {"type": "line", "opacity": 0},
             "encoding": {
               "x": {"field": "t", "type": "temporal"},
               "y": {"field": "v", "type": "quantitative", "scale": {"domain": [20.93, 58.85], "nice": false, "zero": false},
                     "axis": {"orient": "right", "labels": false, "title": null, "values": [23.75, 28.5, 33.25, 38, 42.75, 47.5, 52.25, 57],
                              "tickSize": {"condition": {"test": "abs(datum.value/9.5 - round(datum.value/9.5)) < 0.01", "value": -16}, "value": -8}}}
             }}
          ]
        }
      ]
    }
  ]
}
